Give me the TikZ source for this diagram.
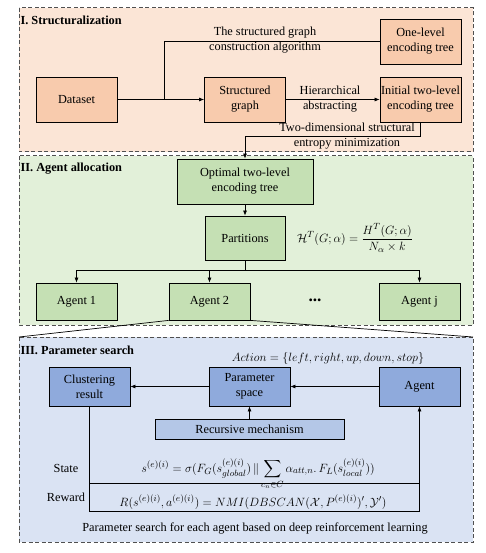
\documentclass[tikz,border=0pt]{standalone}
\usepackage{amsmath,amssymb}
\usepackage{fontspec}
\setmainfont{Liberation Serif}
\usetikzlibrary{arrows.meta}
\definecolor{secIfill}{HTML}{FBE5D6}
\definecolor{secIbox}{HTML}{F8CBAD}
\definecolor{secIIfill}{HTML}{E2F0D9}
\definecolor{secIIbox}{HTML}{C5E0B4}
\definecolor{secIIIfill}{HTML}{DAE3F3}
\definecolor{secIIIbox}{HTML}{8FAADC}
\definecolor{recbox}{HTML}{B4C7E7}
\definecolor{dashgray}{HTML}{505050}
\tikzset{
  section/.style={draw=dashgray, line width=1pt, dash pattern=on 4pt off 2.5pt},
  pbox/.style={draw, line width=0.8pt, fill=secIbox, align=center, minimum width=81pt, minimum height=45pt, inner sep=1pt},
  gbox/.style={draw, line width=0.8pt, fill=secIIbox, align=center, minimum width=81pt, minimum height=37pt, inner sep=1pt},
  bbox/.style={draw, line width=0.8pt, fill=secIIIbox, align=center, minimum width=81pt, minimum height=39pt, inner sep=1pt},
  rbox/.style={draw, line width=0.8pt, fill=recbox, align=center, minimum width=189pt, minimum height=20pt, inner sep=1pt},
  conn/.style={line width=0.7pt},
  arr/.style={conn, -{Latex[length=5pt,width=4pt]}},
  ttl/.style={anchor=west, font=\fontsize{12.3}{14}\selectfont\bfseries},
  lbl/.style={align=center, inner sep=0pt},
}
\begin{document}
\begin{tikzpicture}[x=1pt,y=-1pt, font=\fontsize{12.3}{15}\selectfont]
\useasboundingbox (0,0) rectangle (486,553);
% sections
\draw[section, fill=secIfill] (19,8) rectangle (473,152);
\draw[section, fill=secIIfill] (19,156) rectangle (473,325);
\coordinate (s3nw) at (19,337);
\coordinate (s3ne) at (473,337);
\draw[section, fill=secIIIfill] (s3nw) rectangle (473,542);
\node[ttl] (t1) at (17,20) {I. Structuralization};
\node[ttl] (t2) at (17,169) {II. Agent allocation};
\node[ttl] (t3) at (17,350) {III. Parameter search};

% Section I
\node[pbox] (data) at (76.5,99.5) {Dataset};
\node[pbox] (sg) at (245,99.5) {Structured\\graph};
\node[pbox] (init) at (420.5,99.5) {Initial two-level\\encoding tree};
\node[pbox] (one) at (420.5,41.5) {One-level\\encoding tree};
\draw[arr] (data) -- (sg);
\coordinate (br) at (164,99.5);
\draw[conn] (br) |- (one.west);
\node[lbl] (l1) at (265,40.5) {The structured graph\\construction algorithm};
\draw[arr] (sg) -- (init);
\node[lbl] (l2) at (330,99) {Hierarchical\\abstracting};
\node[gbox, minimum width=136pt, minimum height=45pt] (opt) at (245,181.5) {Optimal two-level\\encoding tree};
\draw[arr] (init.south) -- ++(0,14) -| (opt.north);
\node[lbl] (l3) at (347,136.5) {Two-dimensional structural\\entropy minimization};

% Section II
\node[gbox, minimum width=80pt, minimum height=44pt] (part) at (245,238) {Partitions};
\node (f1) at (355,238) {$\mathcal{H}^T(G;\alpha)=\dfrac{H^T(G;\alpha)}{N_\alpha\times k}$};
\draw[arr] (opt) -- (part);
\node[gbox] (a1) at (76.5,301.5) {Agent 1};
\node[gbox] (a2) at (209.5,301.5) {Agent 2};
\node[gbox] (aj) at (419.5,301.5) {Agent j};
\node (dots) at (315,300) {\textbf{\LARGE ...}};
\draw[arr] (part.south) -- ++(0,10) -| (a1.north);
\draw[arr] (part.south) -- ++(0,10) -| (a2.north);
\draw[arr] (part.south) -- ++(0,10) -| (aj.north);
\draw[conn] (a2.south west) -- (s3nw);
\draw[conn] (a2.south east) -- (s3ne);

% Section III
\node (act) at (328,358) {$Action=\{left,right,up,down,stop\}$};
\node[bbox] (clus) at (89.5,386.5) {Clustering\\result};
\node[bbox] (ps) at (249.5,386.5) {Parameter\\space};
\node[bbox] (ag) at (419.5,386.5) {Agent};
\node[rbox] (rec) at (249.5,429) {Recursive mechanism};
\draw[arr] (ag) -- (ps);
\draw[arr] (ps) -- (clus);
\draw[arr] (rec) -- (ps);
\node[anchor=base] (f2) at (258,472) {$\displaystyle s^{(e)(i)}=\sigma(F_G(s^{(e)(i)}_{global})\,\|\sum_{c_n\in C}\alpha_{att,n}.\,F_L(s^{(e)(i)}_{local}))$};
\node (state) at (66,468) {State};
\node (reward) at (66,497) {Reward};
\coordinate (sc) at (89.5,483);
\coordinate (rc) at (89.5,511);
\draw[arr] (clus.south) -- (rc) -| (ag.south);
\draw[conn] (sc) -- (sc -| ag.south);
\node (f3) at (253,502) {$R(s^{(e)(i)},a^{(e)(i)})=NMI(DBSCAN(\mathcal{X},P^{(e)(i)})',\mathcal{Y}')$};
\node (cap) at (255,528) {Parameter search for each agent based on deep reinforcement learning};
\end{tikzpicture}
\end{document}
